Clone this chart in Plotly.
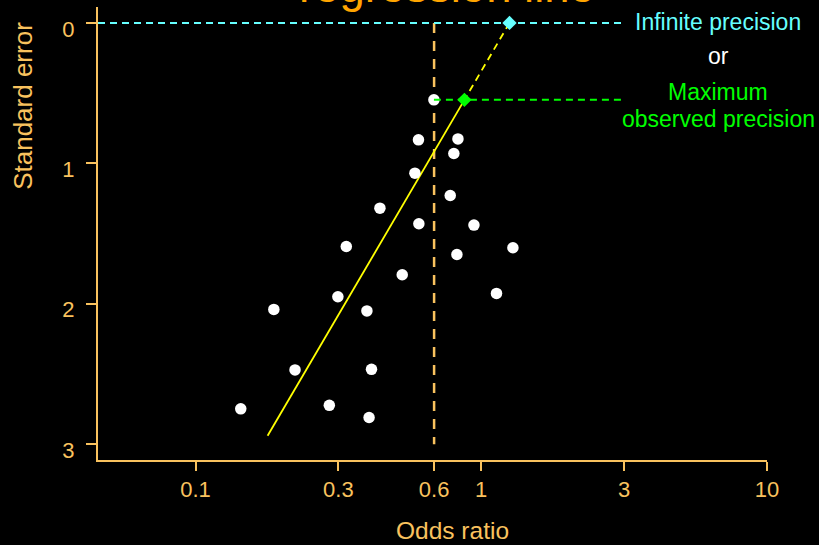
import plotly.graph_objects as go

# ---- data ----
odds_ratio = [0.683, 0.603, 0.829, 0.802, 0.586, 0.779, 0.442, 0.605, 0.943, 0.337, 1.291,
              0.822, 0.529, 1.131, 0.188, 0.315, 0.398, 0.223, 0.413, 0.144, 0.294, 0.405]
std_error = [0.548, 0.833, 0.826, 0.930, 1.070, 1.229, 1.319, 1.430, 1.440, 1.592, 1.601,
             1.649, 1.793, 1.926, 2.040, 1.950, 2.051, 2.471, 2.467, 2.748, 2.723, 2.810]
pooled_or = 0.684
reg_or_at_se0 = 1.256          # regression line OR at SE = 0
reg_slope_log10 = -0.288       # change in log10(OR) per unit SE
reg_se_end = 2.94
ref_line_end_or = 3.19
x_tick_vals = [0.1, 0.3162, 0.684, 1, 3.162, 10]
x_tick_text = ["0.1", "0.3", "0.6", "1", "3", "10"]
y_tick_vals = [0, 1, 2, 3]
y_tick_text = ["0", "1", "2", "3"]

AX = "#F9C25E"
CYAN = "#66FFFF"
GREEN = "#00FF00"
YELLOW = "#FFFF00"
FONT = "Liberation Sans, Arial, sans-serif"
TICK_FS = 22

def reg_or(se):
    return reg_or_at_se0 * 10 ** (reg_slope_log10 * se)

se_min = min(std_error)
or_at_min = odds_ratio[std_error.index(se_min)]
x_left = 10 ** -1.3413

fig = go.Figure()
# pooled estimate vertical line
fig.add_trace(go.Scatter(x=[pooled_or, pooled_or], y=[0, 3], mode="lines",
                         line=dict(color=AX, width=2.5, dash="10px,8px"), hoverinfo="skip"))
# infinite precision line
fig.add_trace(go.Scatter(x=[x_left, ref_line_end_or], y=[0, 0], mode="lines",
                         line=dict(color=CYAN, width=2, dash="7px,5px"), hoverinfo="skip"))
# regression line: solid part
fig.add_trace(go.Scatter(x=[reg_or(se_min), reg_or(reg_se_end)], y=[se_min, reg_se_end], mode="lines",
                         line=dict(color=YELLOW, width=1.8), hoverinfo="skip"))
# regression line: dashed extrapolation
fig.add_trace(go.Scatter(x=[reg_or(0), reg_or(se_min)], y=[0, se_min], mode="lines",
                         line=dict(color=YELLOW, width=1.8, dash="7px,5px"), hoverinfo="skip"))
# studies
fig.add_trace(go.Scatter(x=odds_ratio, y=std_error, mode="markers",
                         marker=dict(color="white", size=11.5, line=dict(width=0))))
# maximum observed precision line
fig.add_trace(go.Scatter(x=[or_at_min, ref_line_end_or], y=[se_min, se_min], mode="lines",
                         line=dict(color=GREEN, width=2, dash="7px,5px"), hoverinfo="skip"))
# diamonds
fig.add_trace(go.Scatter(x=[reg_or(0)], y=[0], mode="markers",
                         marker=dict(symbol="diamond", color=CYAN, size=11)))
fig.add_trace(go.Scatter(x=[reg_or(se_min)], y=[se_min], mode="markers",
                         marker=dict(symbol="diamond", color=GREEN, size=11)))

L, R, T, B = 98, 766.6, 7, 460.5
def px(xp):
    return (xp - L) / (R - L)
def py(yp):
    return (B - yp) / (B - T)

ann = []
def add_text(text, x, y, color, size, angle=0):
    ann.append(dict(text=text, x=px(x), y=py(y), xref="paper", yref="paper", showarrow=False,
                    xanchor="center", yanchor="middle", textangle=angle,
                    font=dict(family=FONT, size=size, color=color)))

add_text("Infinite precision", 718, 22, CYAN, 23)
add_text("or", 718, 56, "white", 23)
add_text("Maximum", 718, 92, GREEN, 23)
add_text("observed precision", 718, 119, GREEN, 23)
add_text("Odds ratio", 452, 531, AX, 24.5)
add_text("Standard error", 23, 106, AX, 26, -90)
add_text("regression line", 447, -14, "#FFA500", 45.5)

fig.update_layout(
    width=819, height=545, showlegend=False,
    margin=dict(l=L, r=819 - R, t=T, b=545 - B),
    paper_bgcolor="black", plot_bgcolor="black",
    font=dict(family=FONT, size=TICK_FS, color=AX),
    annotations=ann,
    xaxis=dict(type="log", range=[-1.3413, 1.0002], showgrid=False, zeroline=False,
               showline=True, linecolor=AX, linewidth=2,
               ticks="outside", ticklen=9, tickwidth=2, tickcolor=AX,
               tickvals=x_tick_vals, ticktext=x_tick_text,
               tickfont=dict(family=FONT, size=TICK_FS, color=AX)),
    yaxis=dict(range=[3.1124, -0.1131], showgrid=False, zeroline=False,
               showline=True, linecolor=AX, linewidth=2,
               ticks="outside", ticklen=10, tickwidth=2, tickcolor=AX,
               tickvals=y_tick_vals, ticktext=y_tick_text, ticklabelstandoff=7,
               ticklabelshift=-6,
               tickfont=dict(family=FONT, size=TICK_FS, color=AX)),
)
fig.write_html("out.html", config={"displayModeBar": False},
               post_script="document.body.style.margin='0px';document.body.style.background='black';")
